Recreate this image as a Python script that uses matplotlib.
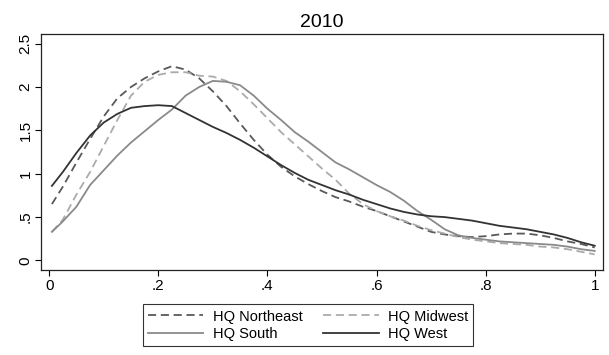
import matplotlib
matplotlib.use("Agg")
import matplotlib.pyplot as plt

plt.rcParams['font.family'] = ['Liberation Sans', 'DejaVu Sans']

# Kernel density estimates by headquarters region, 2010
x_grid = [0.005, 0.025, 0.05, 0.075, 0.1, 0.125, 0.15, 0.175, 0.2, 0.225,
          0.25, 0.275, 0.3, 0.325, 0.35, 0.375, 0.4, 0.425, 0.45, 0.475,
          0.5, 0.525, 0.55, 0.575, 0.6, 0.625, 0.65, 0.675, 0.7, 0.725,
          0.75, 0.775, 0.8, 0.825, 0.85, 0.875, 0.9, 0.925, 0.95, 0.975, 1.0]

northeast = [0.65, 0.85, 1.13, 1.40, 1.66, 1.87, 2.00, 2.10, 2.18, 2.24,
             2.20, 2.10, 1.95, 1.78, 1.58, 1.39, 1.22, 1.08, 0.97, 0.88,
             0.80, 0.73, 0.68, 0.62, 0.57, 0.51, 0.45, 0.39, 0.33, 0.30,
             0.28, 0.27, 0.28, 0.30, 0.31, 0.31, 0.29, 0.26, 0.22, 0.19, 0.15]

midwest = [0.33, 0.47, 0.76, 1.02, 1.32, 1.62, 1.90, 2.06, 2.14, 2.17,
           2.17, 2.13, 2.12, 2.07, 1.95, 1.80, 1.64, 1.48, 1.34, 1.20,
           1.06, 0.93, 0.77, 0.65, 0.57, 0.51, 0.46, 0.40, 0.35, 0.31,
           0.27, 0.24, 0.22, 0.20, 0.19, 0.18, 0.16, 0.15, 0.13, 0.10, 0.07]

south = [0.33, 0.45, 0.62, 0.87, 1.04, 1.21, 1.36, 1.49, 1.62, 1.74,
         1.90, 2.00, 2.07, 2.06, 2.02, 1.90, 1.75, 1.62, 1.48, 1.37,
         1.25, 1.13, 1.05, 0.96, 0.87, 0.79, 0.69, 0.57, 0.47, 0.36,
         0.29, 0.26, 0.24, 0.22, 0.21, 0.20, 0.19, 0.18, 0.16, 0.13, 0.11]

west = [0.86, 1.02, 1.24, 1.44, 1.59, 1.69, 1.76, 1.78, 1.79, 1.78,
        1.70, 1.62, 1.54, 1.47, 1.39, 1.30, 1.20, 1.10, 1.01, 0.93,
        0.87, 0.81, 0.76, 0.70, 0.65, 0.60, 0.56, 0.53, 0.51, 0.50,
        0.48, 0.46, 0.43, 0.40, 0.38, 0.36, 0.33, 0.30, 0.26, 0.21, 0.17]

x_ticks = [0, 0.2, 0.4, 0.6, 0.8, 1]
x_labels = ["0", ".2", ".4", ".6", ".8", "1"]
y_ticks = [0, 0.5, 1, 1.5, 2, 2.5]
y_labels = ["0", ".5", "1", "1.5", "2", "2.5"]

fig = plt.figure(figsize=(6.09, 3.55), dpi=100)
ax = fig.add_axes([0.0673, 0.2394, 0.9227, 0.6646])

dash = (0, (4.5, 2.6))
l_ne, = ax.plot(x_grid, northeast, color="#595959", lw=1.3, linestyle=dash, label="HQ Northeast")
l_mw, = ax.plot(x_grid, midwest, color="#ababab", lw=1.3, linestyle=dash, label="HQ Midwest")
l_so, = ax.plot(x_grid, south, color="#8a8a8a", lw=1.3, label="HQ South")
l_we, = ax.plot(x_grid, west, color="#333333", lw=1.3, label="HQ West")

ax.set_xlim(-0.015, 1.015)
ax.set_ylim(-0.11, 2.61)
ax.set_xticks(x_ticks)
ax.set_xticklabels(x_labels)
ax.set_yticks(y_ticks)
ax.set_yticklabels(y_labels, rotation=90, va="center")
ax.tick_params(direction="out", length=4, width=0.8, labelsize=11, colors="black")
ax.tick_params(axis="y", pad=2)
ax.tick_params(axis="x", pad=2.5)
for s in ax.spines.values():
    s.set_linewidth(0.9)
    s.set_color("#222222")

ax.set_title("2010", fontsize=14, pad=5)

# legend filled column-wise: NE / South on the left, Midwest / West on the right
handles = [l_ne, l_so, l_mw, l_we]
leg = fig.legend(handles, [h.get_label() for h in handles],
                 loc="lower center", bbox_to_anchor=(0.506, 0.004),
                 ncol=2, fontsize=10.5, frameon=True, fancybox=False, edgecolor="black",
                 handlelength=3.8, handletextpad=0.65, columnspacing=1.4,
                 borderpad=0.35, labelspacing=0.25)
leg.get_frame().set_linewidth(0.8)

fig.savefig("out.png", dpi=100)
